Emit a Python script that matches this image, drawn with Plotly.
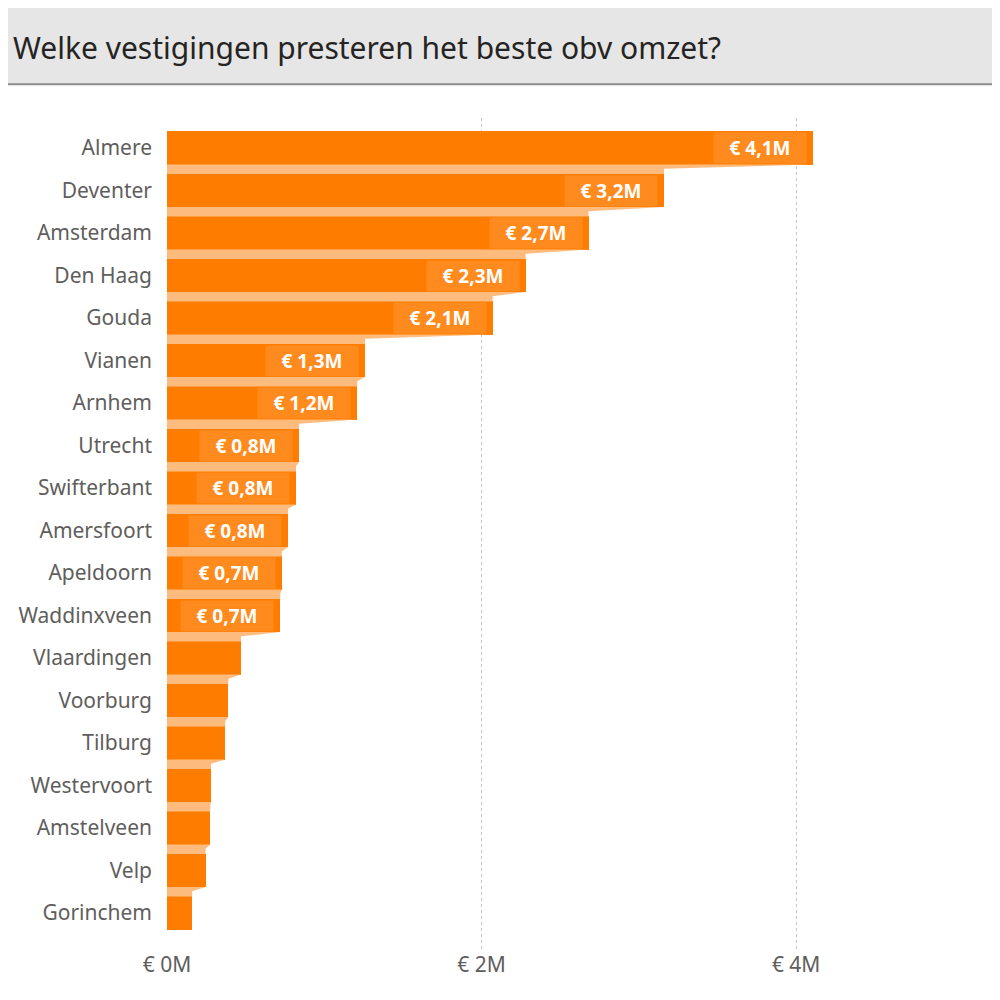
import plotly.graph_objects as go

# Omzet per vestiging (in miljoen euro)
vestigingen = ["Almere", "Deventer", "Amsterdam", "Den Haag", "Gouda", "Vianen",
               "Arnhem", "Utrecht", "Swifterbant", "Amersfoort", "Apeldoorn",
               "Waddinxveen", "Vlaardingen", "Voorburg", "Tilburg", "Westervoort",
               "Amstelveen", "Velp", "Gorinchem"]
omzet = [4.11, 3.16, 2.68, 2.28, 2.07, 1.26, 1.21, 0.84, 0.82, 0.77, 0.73,
         0.72, 0.47, 0.39, 0.37, 0.28, 0.275, 0.245, 0.16]
x_ticks = [0, 2, 4]
x_ticktext = ["€ 0M", "€ 2M", "€ 4M"]
label_min = 0.7  # kleinere balken krijgen geen label

ORANJE = "#FE7D00"
LICHT = "#FDBB7D"
LABEL_BG = "#FF8B1E"
BAR_W = 0.78
FONT = "Noto Sans"

pos = list(range(len(vestigingen)))
fig = go.Figure()

# lichte "lint"-vlakken tussen de balken
for i in range(len(omzet) - 1):
    b = i + BAR_W / 2
    t = i + 1 - BAR_W / 2
    g = t - b
    fig.add_trace(go.Scatter(
        x=[0, omzet[i], omzet[i + 1], omzet[i + 1], 0, 0],
        y=[b, b, b + g * 0.45, t, t, b],
        mode="lines", fill="toself", fillcolor=LICHT,
        line=dict(width=0, color=LICHT), hoverinfo="skip", showlegend=False,
    ))

fig.add_trace(go.Bar(
    y=pos, x=omzet, orientation="h", width=BAR_W,
    marker=dict(color=ORANJE, line=dict(width=0)),
    hovertext=vestigingen, showlegend=False,
))

# waardelabels
for i, v in enumerate(omzet):
    if v >= label_min:
        fig.add_annotation(
            x=v, y=i, xref="x", yref="y", xanchor="right", yanchor="middle",
            xshift=-6, showarrow=False,
            text="€ " + f"{v:.1f}".replace(".", ",") + "M",
            font=dict(family=FONT, size=19, color="white", weight="bold"),
            bgcolor=LABEL_BG, width=90, height=28, borderpad=1, align="center",
        )

# titelbalk
fig.add_shape(type="rect", xref="paper", yref="paper",
              x0=-0.2, x1=1.02, y0=1.041, y1=1.16,
              fillcolor="#E6E6E6", line=dict(width=0), layer="below")
fig.add_shape(type="line", xref="paper", yref="paper",
              x0=-0.195, x1=1.02, y0=1.0405, y1=1.0405,
              line=dict(color="#8C8C8C", width=2))
fig.add_annotation(
    text="Welke vestigingen presteren het beste obv omzet?",
    xref="paper", yref="paper", x=-0.187, y=1.0853,
    xanchor="left", yanchor="middle", showarrow=False,
    font=dict(family=FONT, size=30, color="#252423"),
)

fig.update_layout(
    width=1000, height=1000,
    margin=dict(l=159, r=8, t=110, b=58),
    paper_bgcolor="white", plot_bgcolor="white",
    bargap=0,
    xaxis=dict(
        range=[0, 5.296], tickvals=x_ticks, ticktext=x_ticktext,
        showgrid=True, gridcolor="#C8C6C4", griddash="dot", gridwidth=1,
        zeroline=False, showline=False,
        tickfont=dict(family=FONT, size=21, color="#605E5C"),
    ),
    yaxis=dict(
        range=[18.87, -0.706], tickvals=pos, ticktext=vestigingen,
        showgrid=False, zeroline=False, showline=False,
        ticklabelstandoff=14,
        tickfont=dict(family=FONT, size=21, color="#605E5C"),
    ),
)

fig.write_html("out.html")
